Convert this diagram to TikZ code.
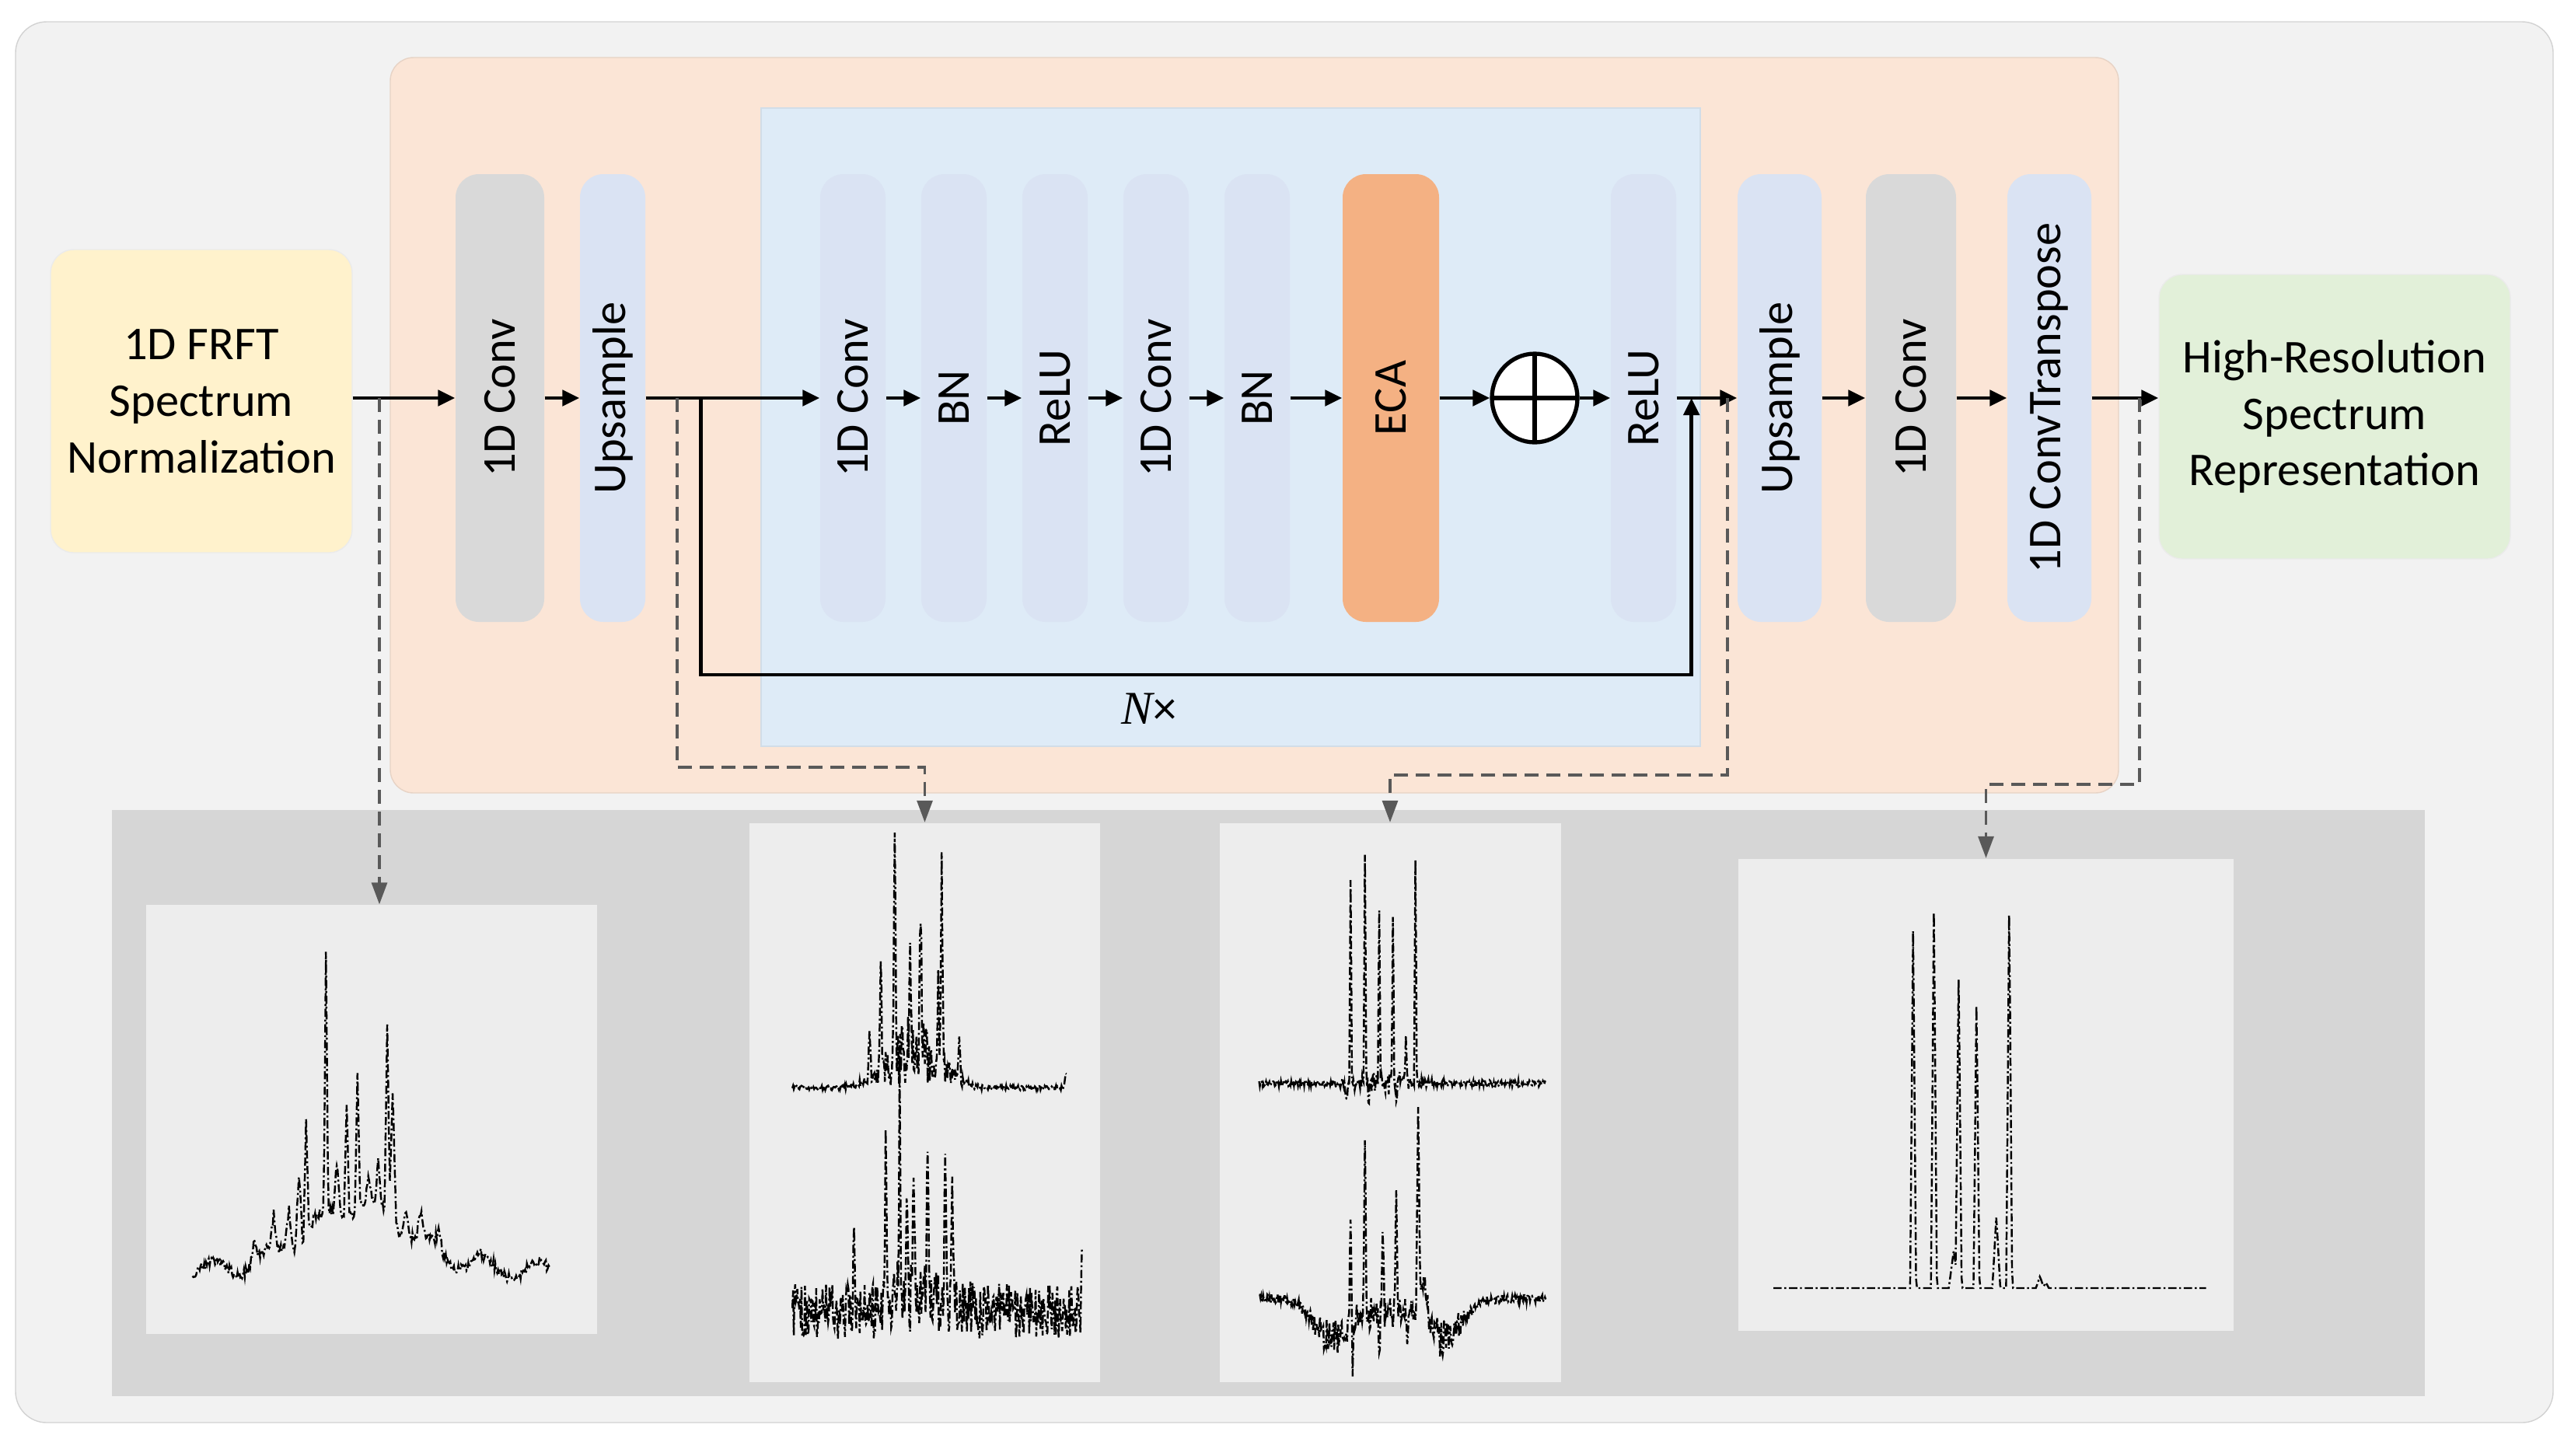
\documentclass[tikz,border=0pt]{standalone}
\usepackage{fontspec}
\setmainfont{Carlito}
\newfontfamily\timesit{Liberation Serif}
\usetikzlibrary{positioning, arrows.meta, calc, shapes.geometric}

\definecolor{panelgray}{HTML}{F2F2F2}
\definecolor{panelline}{HTML}{D2D2D2}
\definecolor{netorange}{HTML}{FBE5D6}
\definecolor{netblue}{HTML}{DEEBF7}
\definecolor{colblue}{HTML}{DAE3F3}
\definecolor{colgray}{HTML}{D9D9D9}
\definecolor{ecaorange}{HTML}{F4B183}
\definecolor{inyellow}{HTML}{FFF2CC}
\definecolor{outgreen}{HTML}{E2F0D9}
\definecolor{plotbg}{HTML}{EDEDED}
\definecolor{bottomgray}{HTML}{D6D6D6}
\definecolor{tapgray}{HTML}{595959}

\newcommand{\vlab}[1]{\rotatebox{90}{#1}}

\begin{document}
\begin{tikzpicture}[
			node distance=1.3cm,
			on grid,
			font=\fontsize{17.2}{20.7}\selectfont,
			declare function={
				spk(\x,\m,\h,\w)=\h*max(0,1-abs(\x-\m)/\w);
				gs(\x,\m,\w)=exp(-((\x-\m)/\w)^2);
			},
			block/.style={
				rounded corners=0.3cm,
				minimum width=0.84cm,
				minimum height=5.76cm,
				inner sep=0pt,
				fill=colblue
			},
			conv/.style={
				block,
				minimum width=1.14cm,
				fill=colgray
			},
			io/.style={
				rounded corners=0.3cm,
				align=center,
				draw=black!8,
				inner sep=0pt
			},
			sum/.style={
				ellipse,
				draw=black,
				fill=white,
				line width=1.5pt,
				minimum width=1.1cm,
				minimum height=1.14cm,
				path picture={
					\draw[line width=1.5pt] (path picture bounding box.north) -- (path picture bounding box.south)
						(path picture bounding box.west) -- (path picture bounding box.east);
				}
			},
			flow/.style={
				draw=black,
				line width=1.4pt,
				-{Triangle[length=0.22cm, width=0.2cm]}
			},
			tap/.style={
				draw=tapgray,
				line width=0.9pt,
				dash pattern=on 0.18cm off 0.1cm,
				-{Triangle[length=0.28cm, width=0.2cm]}
			},
			plotbox/.style={
				fill=plotbg,
				inner sep=0pt
			},
			spec/.style={
				black,
				line width=0.7pt,
				densely dashdotted
			}
			]
			\useasboundingbox (0,0) rectangle (33.07,-18.72);
			% Panels
			\filldraw[fill=panelgray, draw=panelline, rounded corners=0.4cm] (0.2,-0.28) rectangle (32.84,-18.30);
			\filldraw[fill=netorange, draw=netorange!92!black, rounded corners=0.3cm] (5.02,-0.74) rectangle (27.25,-10.20);
			\filldraw[fill=netblue, draw=netblue!94!black] (9.79,-1.39) rectangle (21.87,-9.60);
			\fill[bottomgray] (1.44,-10.42) rectangle (31.19,-17.96);
			
			% Input and output
			\node[io, fill=inyellow, minimum width=3.88cm, minimum height=3.9cm] (in) at (2.59,-5.16) {1D FRFT\\Spectrum\\Normalization};
			\node[io, fill=outgreen, minimum width=4.52cm, minimum height=3.66cm] (out) at (30.03,-5.36) {High-Resolution\\Spectrum\\Representation};
			
			% Columns
			\node[conv] (conv1) at (6.43,-5.12) {\vlab{1D Conv}};
			\node[block, right=1.45cm of conv1] (up1) {\vlab{Upsample}};
			\node[block, right=3.09cm of up1] (res1) {\vlab{1D Conv}};
			\node[block, right=of res1] (bn1) {\vlab{BN}};
			\node[block, right=of bn1] (relu1) {\vlab{ReLU}};
			\node[block, right=of relu1] (res2) {\vlab{1D Conv}};
			\node[block, right=of res2] (bn2) {\vlab{BN}};
			\node[block, right=1.72cm of bn2, minimum width=1.24cm, fill=ecaorange] (eca) {\vlab{ECA}};
			\node[sum, right=1.85cm of eca] (add) {};
			\node[block, right=1.40cm of add] (relu2) {\vlab{ReLU}};
			\node[block, right=1.75cm of relu2, minimum width=1.08cm] (up2) {\vlab{Upsample}};
			\node[conv, right=1.69cm of up2, minimum width=1.16cm] (conv2) {\vlab{1D Conv}};
			\node[block, right=1.78cm of conv2, minimum width=1.08cm] (convt) {\vlab{1D ConvTranspose}};
			\node (rep) at (14.78,-9.12) {{\timesit\itshape N}×};
			
			% Main flow
			\draw[flow] (in.east |- conv1) -- (conv1);
			\draw[flow] (conv1) -- (up1);
			\draw[flow] (up1) -- (res1);
			\draw[flow] (res1) -- (bn1);
			\draw[flow] (bn1) -- (relu1);
			\draw[flow] (relu1) -- (res2);
			\draw[flow] (res2) -- (bn2);
			\draw[flow] (bn2) -- (eca);
			\draw[flow] (eca) -- (add);
			\draw[flow] (add) -- (relu2);
			\draw[flow] (relu2) -- (up2);
			\draw[flow] (up2) -- (conv2);
			\draw[flow] (conv2) -- (convt);
			\draw[flow] (convt) -- (convt -| out.west);
			
			% Skip connection
			\coordinate (skipfrom) at ([xshift=0.71cm]up1.east);
			\coordinate (skipto) at ([xshift=0.19cm]relu2.east);
			\draw[flow] (skipfrom) -- ++(0,-3.56) -| (skipto);
			
			% Spectrum plots
			\node[plotbox, minimum width=5.80cm, minimum height=5.52cm] (p1) at (4.78,-14.40) {};
			\node[plotbox, minimum width=4.51cm, minimum height=7.19cm] (p2) at (11.895,-14.18) {};
			\node[plotbox, minimum width=4.39cm, minimum height=7.19cm] (p3) at (17.88,-14.18) {};
			\node[plotbox, minimum width=6.37cm, minimum height=6.07cm] (p4) at (25.545,-14.08) {};
			
			% Feature taps
			\coordinate (tap1) at (4.88,-5.12);
			\coordinate (tap2) at (8.71,-5.12);
			\coordinate (tap3) at (22.22,-5.12);
			\coordinate (tap4) at (27.52,-5.12);
			\draw[tap] (tap1) -- (tap1 |- p1.north);
			\draw[tap] (tap2) -- ++(0,-4.75) -| (p2.north);
			\draw[tap] (tap3) -- ++(0,-4.85) -| (p3.north);
			\draw[tap] (tap4) -- ++(0,-4.97) -| (p4.north);
			
			\pgfmathsetseed{11}
			\begin{scope}[shift={(p1.south west)}, x=5.80cm, y=5.52cm]
				\draw[spec] plot[domain=0.104:0.896, samples=397, variable=\s] (\s, {0.15+0.15*gs(\s,0.47,0.16)+0.012*rand+0.02*sin(3000*\s)
					+spk(\s,0.240,0.05,0.01)+spk(\s,0.284,0.08,0.008)+spk(\s,0.318,0.1,0.01)+spk(\s,0.340,0.17,0.008)+spk(\s,0.356,0.27,0.006)
					+spk(\s,0.400,0.61,0.005)+spk(\s,0.424,0.12,0.008)+spk(\s,0.446,0.27,0.006)+spk(\s,0.470,0.33,0.006)+spk(\s,0.494,0.07,0.008)
					+spk(\s,0.516,0.1,0.008)+spk(\s,0.536,0.47,0.006)+spk(\s,0.548,0.31,0.008)+spk(\s,0.578,0.07,0.01)+spk(\s,0.61,0.06,0.01)
					+spk(\s,0.65,0.04,0.01)+spk(\s,0.74,0.025,0.01)});
			\end{scope}
			\begin{scope}[shift={(p2.south west)}, x=4.51cm, y=7.19cm]
				\draw[spec] plot[domain=0.124:0.906, samples=392, variable=\s] (\s, {0.527+0.004*rand+0.13*rnd*gs(\s,0.47,0.1)
					+spk(\s,0.416,0.44,0.005)+spk(\s,0.550,0.375,0.005)+spk(\s,0.490,0.29,0.005)+spk(\s,0.460,0.25,0.005)
					+spk(\s,0.376,0.217,0.005)+spk(\s,0.344,0.1,0.005)+spk(\s,0.600,0.08,0.005)+spk(\s,0.540,0.15,0.006)+spk(\s,0.904,0.03,0.006)});
				\draw[spec] plot[domain=0.124:0.950, samples=414, variable=\s] (\s, {0.077+0.1*rnd+0.06*rnd*gs(\s,0.47,0.1)
					+spk(\s,0.430,0.44,0.004)+spk(\s,0.510,0.34,0.005)+spk(\s,0.390,0.30,0.005)+spk(\s,0.560,0.31,0.005)
					+spk(\s,0.470,0.22,0.005)+spk(\s,0.300,0.17,0.005)+spk(\s,0.580,0.23,0.005)+spk(\s,0.450,0.2,0.005)+spk(\s,0.950,0.16,0.004)});
			\end{scope}
			\begin{scope}[shift={(p3.south west)}, x=4.39cm, y=7.19cm]
				\draw[spec] plot[domain=0.118:0.958, samples=421, variable=\s] (\s, {0.535+0.006*rand+0.02*rand*gs(\s,0.48,0.1)
					+spk(\s,0.428,0.432,0.004)+spk(\s,0.576,0.432,0.004)+spk(\s,0.386,0.38,0.004)+spk(\s,0.470,0.338,0.004)
					+spk(\s,0.510,0.30,0.004)+spk(\s,0.548,0.08,0.005)
					-spk(\s,0.374,0.035,0.006)-spk(\s,0.440,0.035,0.004)-spk(\s,0.520,0.03,0.004)});
				\draw[spec] plot[domain=0.118:0.958, samples=421, variable=\s] (\s, {0.15-0.07*gs(\s,0.33,0.07)-0.07*gs(\s,0.66,0.07)-0.03*gs(\s,0.48,0.08)
					+0.008*rand+0.03*rand*(gs(\s,0.33,0.07)+gs(\s,0.66,0.07)+gs(\s,0.48,0.08))
					+spk(\s,0.584,0.38,0.006)+spk(\s,0.428,0.34,0.005)+spk(\s,0.520,0.23,0.005)+spk(\s,0.386,0.18,0.005)
					+spk(\s,0.480,0.17,0.005)+spk(\s,0.600,0.08,0.02)
					-spk(\s,0.392,0.1,0.004)-spk(\s,0.470,0.08,0.004)-spk(\s,0.552,0.08,0.004)});
			\end{scope}
			\begin{scope}[shift={(p4.south west)}, x=6.37cm, y=6.07cm]
				\draw[spec] plot[domain=0.072:0.946, samples=438, variable=\s] (\s, {0.091
					+spk(\s,0.354,0.776,0.006)+spk(\s,0.396,0.819,0.006)+spk(\s,0.446,0.674,0.006)+spk(\s,0.482,0.62,0.006)
					+spk(\s,0.548,0.826,0.006)+spk(\s,0.522,0.154,0.008)+spk(\s,0.436,0.08,0.01)+spk(\s,0.610,0.025,0.008)+spk(\s,0.622,0.012,0.006)});
			\end{scope}
		\end{tikzpicture}
\end{document}
